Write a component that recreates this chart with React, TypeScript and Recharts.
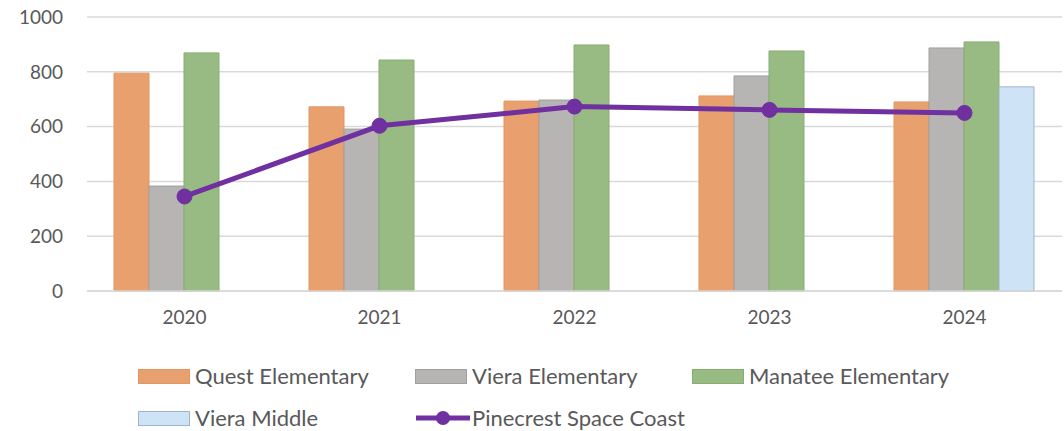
import { ComposedChart, Bar, Line, XAxis, YAxis, CartesianGrid } from 'recharts';

const years = ['2020', '2021', '2022', '2023', '2024'];
const questElementary = [795, 672, 693, 712, 690];
const vieraElementary = [383, 591, 697, 785, 887];
const manateeElementary = [869, 843, 898, 876, 909];
const vieraMiddle = [null, null, null, null, 745];
const pinecrestSpaceCoast = [345, 603, 673, 661, 650];
const yTicks = [0, 200, 400, 600, 800, 1000];

const FONT = 'Lato, "Open Sans", sans-serif';
const TEXT = '#595959';

const barSeries = [
  { key: 'quest', name: 'Quest Elementary', fill: '#e8a06e', stroke: '#e39660' },
  { key: 'vieraElem', name: 'Viera Elementary', fill: '#b7b4b4', stroke: '#9f9f9f' },
  { key: 'manatee', name: 'Manatee Elementary', fill: '#97bb82', stroke: '#88ad73' },
  { key: 'vieraMiddle', name: 'Viera Middle', fill: '#cfe3f6', stroke: '#9fb4c8' },
];
const lineSeries = { key: 'pinecrest', name: 'Pinecrest Space Coast', color: '#7030a0' };

const data = years.map((year, i) => ({
  year,
  quest: questElementary[i],
  vieraElem: vieraElementary[i],
  manatee: manateeElementary[i],
  vieraMiddle: vieraMiddle[i],
  pinecrest: pinecrestSpaceCoast[i],
}));

function LegendItem({ item, isLine }: { item: any; isLine?: boolean }) {
  return (
    <div style={{ display: 'flex', alignItems: 'center', width: 277 }}>
      {isLine ? (
        <svg width={56} height={16} style={{ marginRight: 1 }}>
          <line x1={1} y1={8} x2={55} y2={8} stroke={item.color} strokeWidth={5} />
          <circle cx={28} cy={8} r={7} fill={item.color} />
        </svg>
      ) : (
        <div
          style={{
            width: 50,
            height: 13,
            background: item.fill,
            border: `1.5px solid ${item.stroke}`,
            marginRight: 5,
          }}
        />
      )}
      <span>{item.name}</span>
    </div>
  );
}

export default function App() {
  return (
    <div style={{ position: 'absolute', left: 0, top: 0, width: 1064, height: 431, background: '#fff', fontFamily: FONT }}>
      <ComposedChart
        width={1064}
        height={340}
        data={data}
        margin={{ top: 17, right: 2, left: 0, bottom: 0 }}
        barCategoryGap={27}
        barGap={0}
      >
        <CartesianGrid vertical={false} stroke="#d9d9d9" strokeWidth={1.5} />
        <XAxis
          dataKey="year"
          height={49}
          tickLine={false}
          axisLine={{ stroke: '#d9d9d9', strokeWidth: 1.5 }}
          tickMargin={14}
          tick={{ fill: TEXT, fontSize: 19, fontFamily: FONT }}
        />
        <YAxis
          width={87}
          domain={[0, 1000]}
          ticks={yTicks}
          tickLine={false}
          axisLine={false}
          tickMargin={18}
          tick={{ fill: TEXT, fontSize: 19, fontFamily: FONT }}
        />
        {barSeries.map((s) => (
          <Bar
            key={s.key}
            dataKey={s.key}
            name={s.name}
            fill={s.fill}
            stroke={s.stroke}
            strokeWidth={1}
            isAnimationActive={false}
          />
        ))}
        <Line
          dataKey={lineSeries.key}
          name={lineSeries.name}
          stroke={lineSeries.color}
          strokeWidth={5}
          type="linear"
          dot={{ r: 7.5, fill: lineSeries.color, stroke: lineSeries.color, strokeWidth: 1 }}
          isAnimationActive={false}
        />
      </ComposedChart>
      <div style={{ position: 'absolute', left: 138, top: 362, fontSize: 22, color: TEXT, lineHeight: '28px' }}>
        <div style={{ display: 'flex' }}>
          <LegendItem item={barSeries[0]} />
          <LegendItem item={barSeries[1]} />
          <LegendItem item={barSeries[2]} />
        </div>
        <div style={{ display: 'flex', marginTop: 14 }}>
          <LegendItem item={barSeries[3]} />
          <LegendItem item={lineSeries} isLine />
        </div>
      </div>
    </div>
  );
}
